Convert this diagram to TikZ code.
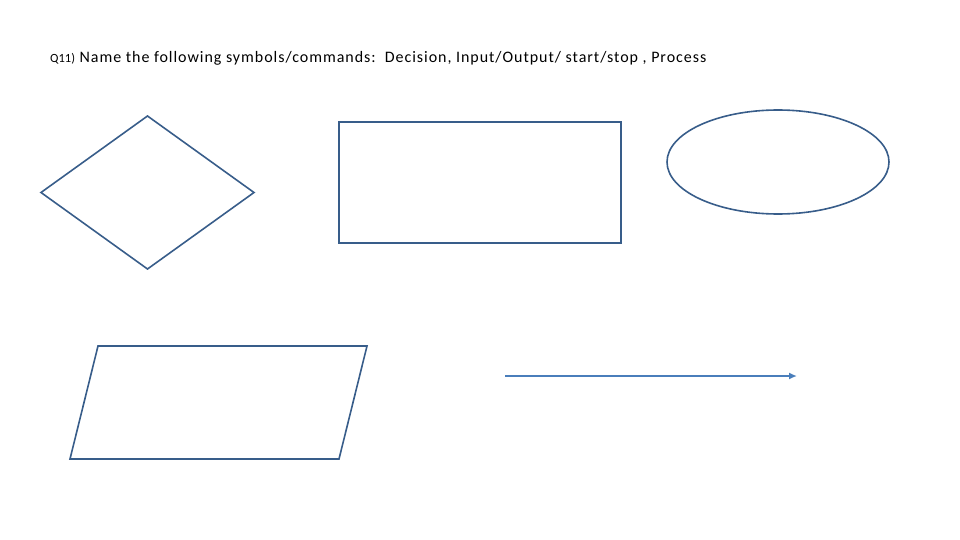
\documentclass[tikz,border=0pt]{standalone}
\usepackage{fontspec}
\setmainfont{Carlito}
\newfontfamily\titlefont[LetterSpace=6]{Carlito}
\usetikzlibrary{shapes.geometric}
\usetikzlibrary{arrows.meta}
\definecolor{shapeline}{HTML}{385D8A}
\definecolor{arrowline}{HTML}{4A7EBB}

\begin{document}
\begin{tikzpicture}[x=1pt,y=-1pt,
  symbol/.style={draw=shapeline,line width=1.6pt,inner sep=0pt,outer sep=0pt}]
  \useasboundingbox (0,0) rectangle (960,540);
  \node[anchor=base west,inner sep=0pt] (title) at (50,62.5)
    {\fontsize{12.5}{14}\selectfont Q11)\titlefont\fontsize{16}{19}\selectfont\ Name the following symbols/commands:\ \ Decision, Input/Output/ start/stop , Process};
  \node[symbol,diamond,minimum width=213pt,minimum height=153pt] (decision) at (147.5,192.5) {};
  \node[symbol,rectangle,minimum width=282pt,minimum height=121pt] (process) at (480,182.5) {};
  \node[symbol,ellipse,minimum width=222pt,minimum height=104pt] (startstop) at (778,162) {};
  \draw[draw=shapeline,line width=1.6pt] (98,346) -- (367,346) -- (339,459) -- (70,459) -- cycle;
  \coordinate (flowa) at (505,376);
  \coordinate (flowb) at (797,376);
  \draw[draw=arrowline,line width=1.6pt,-{Latex[length=8pt,width=7pt]}] (flowa) -- (flowb);
\end{tikzpicture}
\end{document}
